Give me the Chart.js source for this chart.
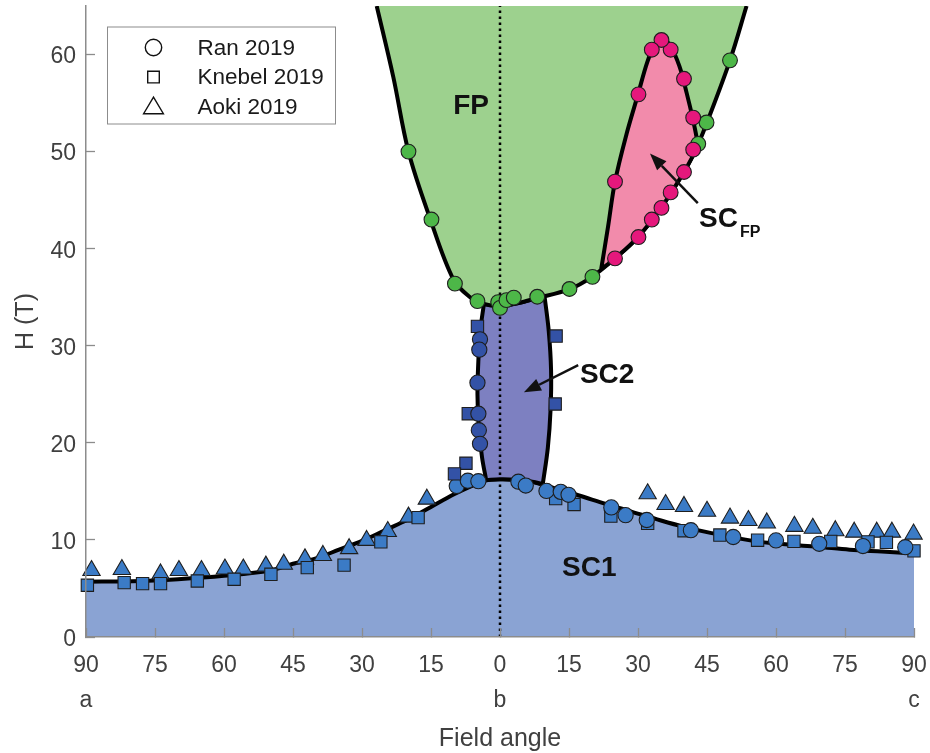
<!DOCTYPE html>
<html>
<head>
<meta charset="utf-8">
<title>Phase diagram</title>
<script src="https://cdn.jsdelivr.net/npm/chart.js@4.4.1/dist/chart.umd.min.js"></script>
<style>
  html, body { margin: 0; padding: 0; background: #fff; }
</style>
</head>
<body>
<canvas id="phase" width="930" height="753"></canvas>
<script>
// --- data: [angle, H] (angle < 0 is the a-b side) ---
const sc1Line = [[-90,5.7],[-80,5.74],[-70,5.95],[-60,6.3],[-50,6.85],[-45,7.55],[-40,8.1],[-35,9.0],[-30,9.9],[-25,11.0],[-20,12.1],[-15,13.4],[-10,14.7],[-6,15.6],[-3,16.15],[0,16.25],[3.5,16.2],[7,16.0],[12,15.3],[17,14.6],[23,13.7],[28,13.0],[35,12.0],[40,11.35],[46,10.7],[55,9.9],[62,9.55],[69,9.3],[76,9.0],[83,8.8],[90,8.6]];
const fpLine = [[-26.8,65],[-23.2,57.7],[-19.9,50],[-15.2,43.1],[-10.1,36.8],[-6.5,35.0],[-3.5,34.3],[0,34.1],[4,34.4],[8,34.9],[15,35.8],[20,37.1],[25,39.0],[30,41.2],[35,44.2],[40,47.9],[43,50.7],[45,53.0],[50,59.4],[53.6,65]];
const sc2Shape = [[-3.0,16.15],[-3.9,18.5],[-4.6,21.5],[-4.9,25],[-4.7,28.5],[-4.3,31.5],[-3.5,34.3],[-3.5,34.3],[0,34.1],[4,34.4],[8,34.9],[9.7,35.05],[9.7,35.05],[10.6,31.5],[11.1,27.5],[11.0,23.5],[10.4,19.5],[9.3,15.75],[9.3,15.75],[7,16.0],[3.5,16.2],[0,16.25],[-3.0,16.15]];
const scfpShape = [[22,37.9],[23.5,42.3],[25,46.9],[27.5,51.8],[30,55.9],[32,59.2],[33.7,61.1],[35.2,61.7],[37,60.9],[39,58.8],[40.6,56.0],[42,53.2],[43.1,50.6],[43.1,50.6],[40,47.9],[35,44.2],[30,41.2],[25,39.0],[22,37.9]];
const centerLine = [[0,0],[0,65]];

const ranSC1 = [[-9.4,15.55],[-7,16.1],[-4.7,16.05],[4,16.0],[5.6,15.6],[10.1,15.05],[13.2,14.95],[14.9,14.65],[24.2,13.35],[27.3,12.55],[31.9,12.05],[41.5,11.0],[50.7,10.3],[60,9.95],[69.4,9.6],[78.9,9.37],[88.1,9.25]];
const knebelSC1 = [[-89.7,5.33],[-81.7,5.6],[-77.7,5.5],[-73.8,5.5],[-65.8,5.77],[-57.8,5.95],[-49.8,6.46],[-41.9,7.15],[-33.9,7.4],[-25.9,9.8],[-17.8,12.3],[12.1,14.25],[16.1,13.65],[24.1,12.45],[32.1,11.7],[40,10.95],[47.8,10.5],[56,9.97],[63.9,9.85],[71.9,9.85],[80,9.8],[84,9.75],[90,8.87]];
const aokiSC1 = [[-88.8,6.85],[-82.2,6.95],[-73.8,6.5],[-69.8,6.85],[-64.9,6.85],[-59.8,7.0],[-55.8,7.0],[-50.9,7.3],[-47,7.5],[-42.4,8.05],[-38.5,8.4],[-32.8,9.1],[-29,9.95],[-24.4,10.87],[-19.9,12.35],[-15.9,14.2],[32.1,14.75],[36,13.65],[40,13.45],[45,12.95],[50,12.25],[54,12.0],[58,11.75],[64,11.4],[68,11.2],[72.9,10.95],[77,10.8],[81.9,10.8],[85.2,10.8],[89.9,10.6]];
const ranSC2 = [[-4.35,30.66],[-4.5,29.6],[-4.9,26.2],[-4.7,23.0],[-4.6,21.3],[-4.35,19.9]];
const knebelSC2 = [[-4.9,32.0],[-6.9,23.0],[12.2,31.0],[12.0,24.0],[-7.4,17.9],[-9.9,16.8]];
const ranFP = [[-19.9,50],[-14.9,43],[-9.8,36.4],[-4.9,34.6],[-0.4,34.5],[0,33.9],[1.4,34.7],[3,34.95],[8.1,35.05],[15.1,35.85],[20.1,37.1],[43.1,50.8],[44.9,53.0],[50,59.4]];
const ranSCFP = [[25,39.0],[30.1,41.2],[33,43.0],[35.1,44.2],[37.1,45.8],[40,47.9],[42,50.2],[42,53.5],[40,57.5],[37.1,60.5],[35.1,61.5],[33,60.5],[30.1,55.9],[25,46.9]];

const xTickVals = [-90,-75,-60,-45,-30,-15,0,15,30,45,60,75,90];
const xTickLabels = ['90','75','60','45','30','15','0','15','30','45','60','75','90'];
const xSubLabels = {'-90': 'a', '0': 'b', '90': 'c'};
const yTickVals = [0,10,20,30,40,50,60];
const legendNames = ['Ran 2019', 'Knebel 2019', 'Aoki 2019'];
const legendShapes = ['circle', 'rect', 'triangle'];

const FONT = "'Liberation Sans', Arial, Helvetica, sans-serif";
const GREY = '#8c8c8c';
const TEXT = '#404040';

// label/arrow placement in data units
const regionText = [
  { text: 'FP', at: [-6.3, 54.7] },
  { text: 'SC2', at: [23.3, 27.0] },
  { text: 'SC1', at: [19.4, 7.1] }
];
const arrows = [
  { from: [43.0, 44.7], to: [32.6, 49.8] },
  { from: [17.0, 28.0], to: [5.2, 25.2] }
];

const pts = arr => arr.map(([x, y]) => ({ x, y }));

function markers(label, data, style, color, radius, order) {
  return {
    label, data: pts(data), showLine: false, clip: false,
    pointStyle: style, pointRadius: radius,
    pointBackgroundColor: color, pointBorderColor: '#1e1e1e', pointBorderWidth: 1.1,
    order
  };
}
function region(label, data, fill, color, order) {
  return {
    label, data: pts(data), showLine: true, fill,
    backgroundColor: color, borderColor: '#000', borderWidth: 4,
    borderJoinStyle: 'round', pointRadius: 0, tension: 0.35, order
  };
}

const C_SC1 = '#3b7bc6', C_SC2 = '#3352a6';

const annotate = {
  id: 'annotate',
  afterDatasetsDraw(chart) {
    const { ctx, scales: { x, y } } = chart;
    const P = ([a, b]) => [x.getPixelForValue(a), y.getPixelForValue(b)];
    ctx.save();
    ctx.fillStyle = '#111';
    ctx.strokeStyle = '#111';
    ctx.textAlign = 'center';
    ctx.textBaseline = 'middle';
    ctx.font = 'bold 28px ' + FONT;
    regionText.forEach(r => {
      const [px, py] = P(r.at);
      ctx.fillText(r.text, px, py);
    });
    // SC with subscript FP
    const [sx, sy] = P([47.5, 43.0]);
    ctx.fillText('SC', sx, sy);
    const [fx, fy] = P([54.4, 41.7]);
    ctx.font = 'bold 16px ' + FONT;
    ctx.fillText('FP', fx, fy);

    ctx.lineWidth = 2.5;
    arrows.forEach(a => {
      const [x0, y0] = P(a.from), [x1, y1] = P(a.to);
      const ang = Math.atan2(y1 - y0, x1 - x0);
      const len = 17, half = 6.5;
      const bx = x1 - len * Math.cos(ang), by = y1 - len * Math.sin(ang);
      ctx.beginPath();
      ctx.moveTo(x0, y0);
      ctx.lineTo(bx, by);
      ctx.stroke();
      ctx.beginPath();
      ctx.moveTo(x1, y1);
      ctx.lineTo(bx + half * Math.sin(ang), by - half * Math.cos(ang));
      ctx.lineTo(bx - half * Math.sin(ang), by + half * Math.cos(ang));
      ctx.closePath();
      ctx.fill();
    });
    ctx.restore();
  }
};

const legendBox = {
  id: 'legendBox',
  afterDraw(chart) {
    const { ctx, chartArea } = chart;
    const left = chartArea.left + 21.5, top = chartArea.top + 21;
    ctx.save();
    ctx.fillStyle = '#fff';
    ctx.fillRect(left, top, 228, 97);
    ctx.strokeStyle = GREY;
    ctx.lineWidth = 1;
    ctx.strokeRect(left, top, 228, 97);
    ctx.font = '22.5px ' + FONT;
    ctx.textBaseline = 'middle';
    ctx.textAlign = 'left';
    legendNames.forEach((name, i) => {
      const cy = top + 20.5 + i * 29.6, cx = left + 46;
      ctx.strokeStyle = '#111';
      ctx.lineWidth = 1.4;
      ctx.beginPath();
      if (legendShapes[i] === 'circle') {
        ctx.arc(cx, cy, 8.2, 0, Math.PI * 2);
      } else if (legendShapes[i] === 'rect') {
        ctx.rect(cx - 5.8, cy - 5.8, 11.6, 11.6);
      } else {
        ctx.moveTo(cx, cy - 9.5);
        ctx.lineTo(cx + 9.9, cy + 7);
        ctx.lineTo(cx - 9.9, cy + 7);
        ctx.closePath();
      }
      ctx.stroke();
      ctx.fillStyle = '#1a1a1a';
      ctx.fillText(name, left + 90, cy + 1);
    });
    ctx.restore();
  }
};

new Chart(document.getElementById('phase'), {
  type: 'scatter',
  data: {
    datasets: [
      markers('Ran 2019 SCFP', ranSCFP, 'circle', '#e5187c', 7.4, 1),
      markers('Ran 2019 FP', ranFP, 'circle', '#4db748', 7.4, 2),
      markers('Ran 2019 SC2', ranSC2, 'circle', C_SC2, 7.6, 3),
      markers('Knebel 2019 SC2', knebelSC2, 'rect', C_SC2, 8.7, 3),
      markers('Ran 2019 SC1', ranSC1, 'circle', C_SC1, 7.6, 4),
      markers('Knebel 2019 SC1', knebelSC1, 'rect', C_SC1, 8.7, 4),
      markers('Aoki 2019 SC1', aokiSC1, 'triangle', C_SC1, 10, 5),
      {
        label: 'b axis', data: pts(centerLine), showLine: true, pointRadius: 0,
        borderColor: '#000', borderWidth: 2.5, borderDash: [2.5, 3.5], borderCapStyle: 'butt',
        fill: false, order: 6
      },
      region('SCFP', scfpShape, 'shape', '#f28bab', 7),
      region('FP', fpLine, 'end', '#9dd18e', 8),
      region('SC2', sc2Shape, 'shape', '#7d80c1', 9),
      region('SC1', sc1Line, 'origin', '#8aa3d3', 10)
    ]
  },
  options: {
    responsive: false,
    animation: false,
    events: [],
    layout: { autoPadding: false, padding: { left: 0, right: 16, top: 6, bottom: 0 } },
    plugins: { legend: { display: false }, tooltip: { enabled: false } },
    scales: {
      x: {
        type: 'linear', min: -90, max: 90,
        afterBuildTicks: s => { s.ticks = xTickVals.map(v => ({ value: v })); },
        afterFit: s => { s.height = 116; s.paddingLeft = 0; s.paddingRight = 0; },
        grid: { drawOnChartArea: false, drawTicks: true, tickLength: -9, tickWidth: 1.3, tickColor: GREY, z: 1 },
        border: { display: true, color: GREY, width: 1.5, z: 1 },
        ticks: {
          z: 1, autoSkip: false, maxRotation: 0, padding: 19.5, color: TEXT,
          font: { family: FONT, size: 23, lineHeight: 1.54 },
          callback: v => {
            const i = xTickVals.indexOf(v);
            const sub = xSubLabels[String(v)];
            return sub ? [xTickLabels[i], sub] : xTickLabels[i];
          }
        },
        title: { display: true, text: 'Field angle', color: TEXT, font: { family: FONT, size: 25, lineHeight: 1.1 }, padding: { top: 0, bottom: 0 } }
      },
      y: {
        min: 0, max: 65,
        afterBuildTicks: s => { s.ticks = yTickVals.map(v => ({ value: v })); },
        afterFit: s => { s.width = 86; s.paddingTop = 0; s.paddingBottom = 0; },
        grid: { drawOnChartArea: false, drawTicks: true, tickLength: -9, tickWidth: 1.3, tickColor: GREY, z: 1 },
        border: { display: true, color: GREY, width: 1.5, z: 1 },
        ticks: { z: 1, padding: 19, labelOffset: 2.5, color: TEXT, font: { family: FONT, size: 23 } },
        title: { display: true, text: 'H (T)', color: TEXT, font: { family: FONT, size: 25, lineHeight: 1.2 }, padding: { top: 11, bottom: 0 } }
      }
    }
  },
  plugins: [annotate, legendBox]
});
</script>
</body>
</html>
